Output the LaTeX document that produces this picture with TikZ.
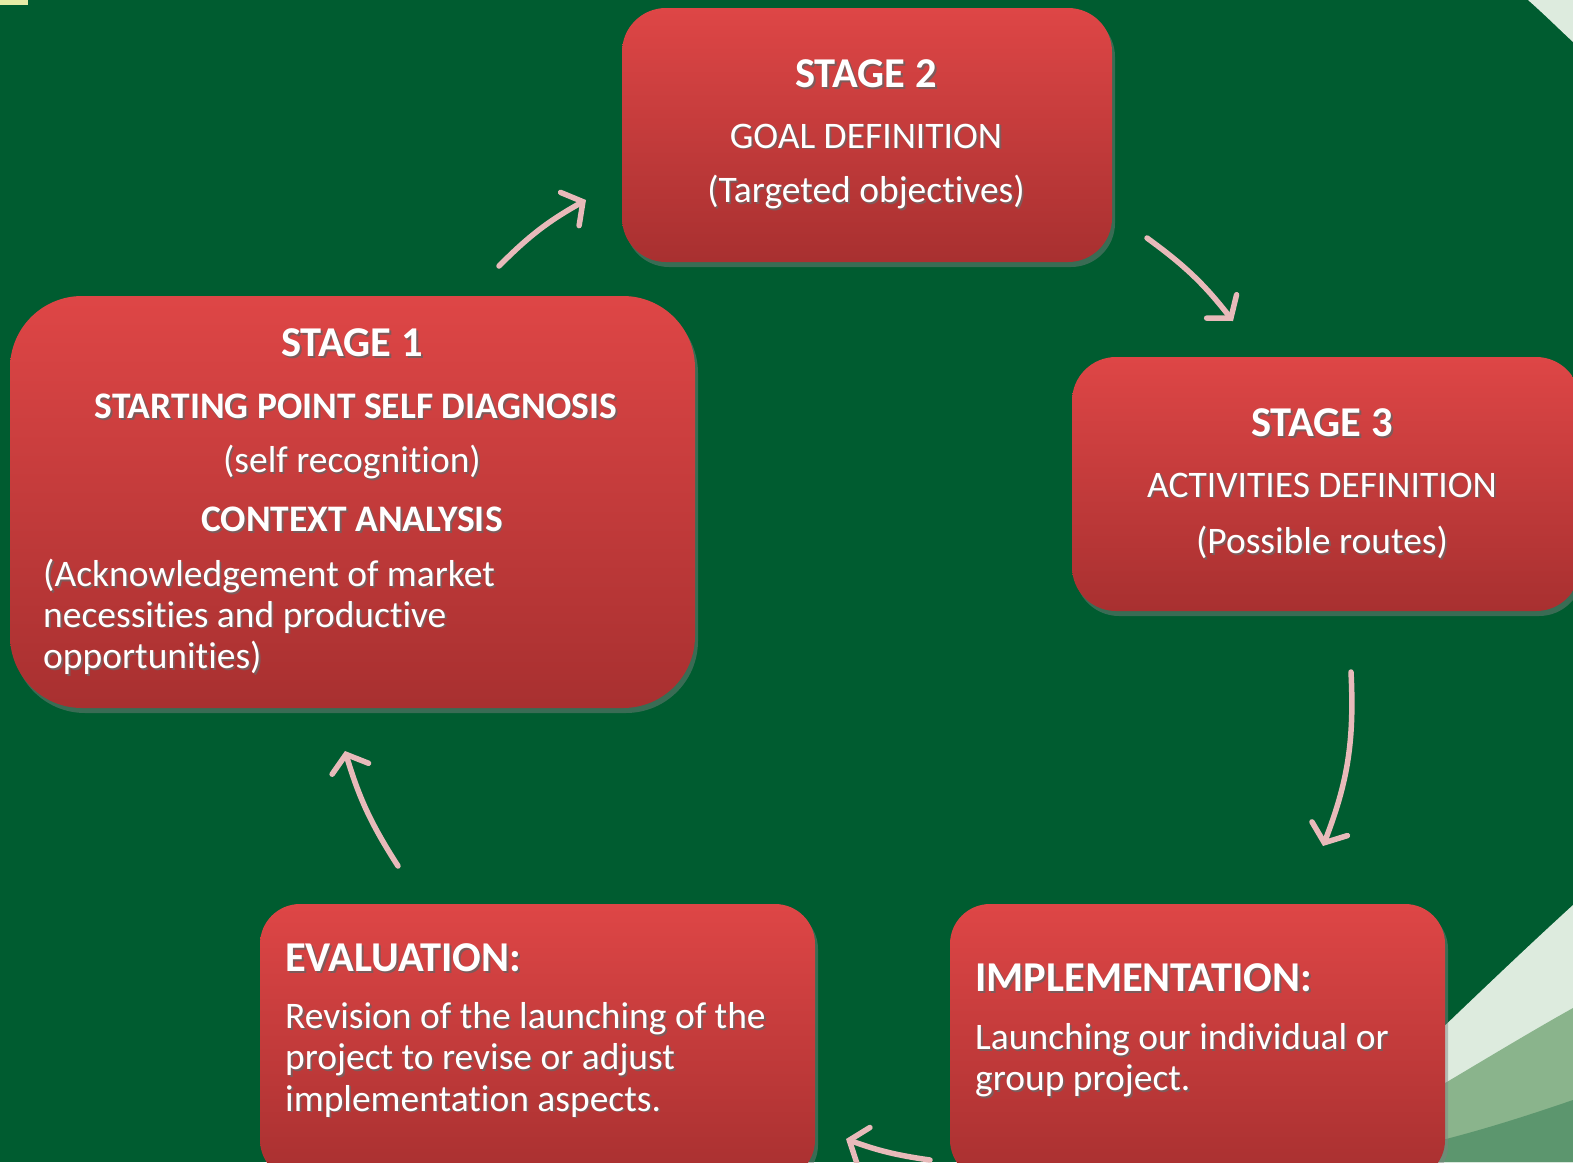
\documentclass[tikz,border=0pt]{standalone}
\usepackage{fontspec}
\setmainfont[Ligatures={NoCommon}]{Carlito}
\usetikzlibrary{arrows.meta,shadows,calc}

\definecolor{bggreen}{RGB}{0,92,48}
\definecolor{palegreen}{RGB}{221,235,222}
\definecolor{midgreen}{RGB}{138,180,140}
\definecolor{deepgreen}{RGB}{92,150,110}
\definecolor{boxtop}{RGB}{222,70,70}
\definecolor{boxbot}{RGB}{168,48,48}
\definecolor{arrowpink}{RGB}{232,186,186}
\definecolor{txtshade}{RGB}{70,20,20}

% white text with a soft dark shadow behind it
\newcommand\shtxt[1]{\leavevmode\rlap{\kern1.8pt\raisebox{-1.8pt}{\textcolor{txtshade!70}{#1}}}#1}

\tikzset{
  stagebox/.style={rounded corners=#1, top color=boxtop, bottom color=boxbot,
    draw=none, drop shadow={opacity=0.45, shadow xshift=3pt, shadow yshift=-5pt}},
  stagebox/.default=40pt,
  headtxt/.style={text=white, font=\fontsize{42.5}{46}\selectfont\bfseries, inner sep=0pt},
  subhead/.style={text=white, font=\fontsize{37.5}{42}\selectfont\bfseries, inner sep=0pt},
  bodytxt/.style={text=white, font=\fontsize{37.5}{42}\selectfont, inner sep=0pt},
  flow/.style={draw=arrowpink, line width=5.5pt, line cap=round,
    -{Straight Barb[length=15pt, width=38pt, line cap=round]}},
}

\begin{document}
\begin{tikzpicture}[x=1pt, y=-1pt]
% backdrop
\fill[bggreen] (0,0) rectangle (1573,1162);
\useasboundingbox (0,0) rectangle (1573,1162);

% light swoosh in the top right corner
\fill[palegreen] (1528,0) .. controls (1545,15) and (1560,30) .. (1573,42) -- (1573,0) -- cycle;

% layered swooshes in the bottom right corner
\fill[palegreen] (1300,1162) .. controls (1390,1080) and (1480,990) .. (1573,905)
  -- (1573,1162) -- cycle;
\fill[midgreen] (1300,1162) .. controls (1390,1120) and (1480,1060) .. (1573,1008)
  -- (1573,1162) -- cycle;
\fill[deepgreen] (1330,1162) .. controls (1420,1150) and (1500,1125) .. (1573,1100)
  -- (1573,1162) -- cycle;

% faint highlight in the top left corner
\fill[yellow!30!white, opacity=0.9] (0,0) rectangle (28,5);

% stage boxes
\path[stagebox=44pt] (622,8) rectangle (1112,262) node[pos=0.5] (s2) {};
\path[stagebox=72pt] (10,296) rectangle (695,708) node[pos=0.5] (s1) {};
\path[stagebox=44pt] (1072,357) rectangle (1580,611) node[pos=0.5] (s3) {};
\path[stagebox=40pt] (950,904) rectangle (1445,1180) node[pos=0.5] (imp) {};
\path[stagebox=40pt] (260,904) rectangle (815,1180) node[pos=0.5] (ev) {};

% stage 2 text
\node[headtxt] (s2a) at (866,75) {\shtxt{STAGE 2}};
\node[bodytxt] (s2b) at (866,137) {\shtxt{GOAL DEFINITION}};
\node[bodytxt] (s2c) at (866,193) {\shtxt{(Targeted objectives)}};

% stage 1 text
\node[headtxt] (s1a) at (352,344) {\shtxt{STAGE 1}};
\node[subhead] (s1b) at (356,407) {\shtxt{STARTING POINT SELF DIAGNOSIS}};
\node[bodytxt] (s1c) at (352,463) {\shtxt{(self recognition)}};
\node[subhead] (s1d) at (352,520) {\shtxt{CONTEXT ANALYSIS}};
\node[bodytxt, anchor=west] (s1e) at (43,577) {\shtxt{(Acknowledgement of market}};
\node[bodytxt, anchor=west] (s1f) at (43,618) {\shtxt{necessities and productive}};
\node[bodytxt, anchor=west] (s1g) at (43,659) {\shtxt{opportunities)}};

% stage 3 text
\node[headtxt] (s3a) at (1322,424) {\shtxt{STAGE 3}};
\node[bodytxt] (s3b) at (1322,486) {\shtxt{ACTIVITIES DEFINITION}};
\node[bodytxt] (s3c) at (1322,543) {\shtxt{(Possible routes)}};

% implementation text
\node[headtxt, anchor=west] (ima) at (975,979) {\shtxt{IMPLEMENTATION:}};
\node[bodytxt, anchor=west] (imb) at (975,1041) {\shtxt{Launching our individual or}};
\node[bodytxt, anchor=west] (imc) at (975,1082) {\shtxt{group project.}};

% evaluation text
\node[headtxt, anchor=west] (eva) at (285,959) {\shtxt{EVALUATION:}};
\node[bodytxt, anchor=west] (evb) at (285,1020) {\shtxt{Revision of the launching of the}};
\node[bodytxt, anchor=west] (evc) at (285,1061) {\shtxt{project to revise or adjust}};
\node[bodytxt, anchor=west] (evd) at (285,1102) {\shtxt{implementation aspects.}};

% cycle arrows between the stages
\coordinate (a1s) at (499,266);  \coordinate (a1e) at (586,200);
\coordinate (a2s) at (1147,238); \coordinate (a2e) at (1233,321);
\coordinate (a3s) at (1351,672); \coordinate (a3e) at (1323,846);
\coordinate (a4s) at (930,1160); \coordinate (a4e) at (846,1139);
\coordinate (a5s) at (398,866);  \coordinate (a5e) at (345,751);

\draw[flow] (a1s) to[bend left=8] (a1e);
\draw[flow] (a2s) to[bend left=8] (a2e);
\draw[flow] (a3s) to[bend left=12] (a3e);
\draw[flow] (a4s) to[bend left=6] (a4e);
\draw[flow] (a5s) to[bend left=8] (a5e);
\end{tikzpicture}
\end{document}
